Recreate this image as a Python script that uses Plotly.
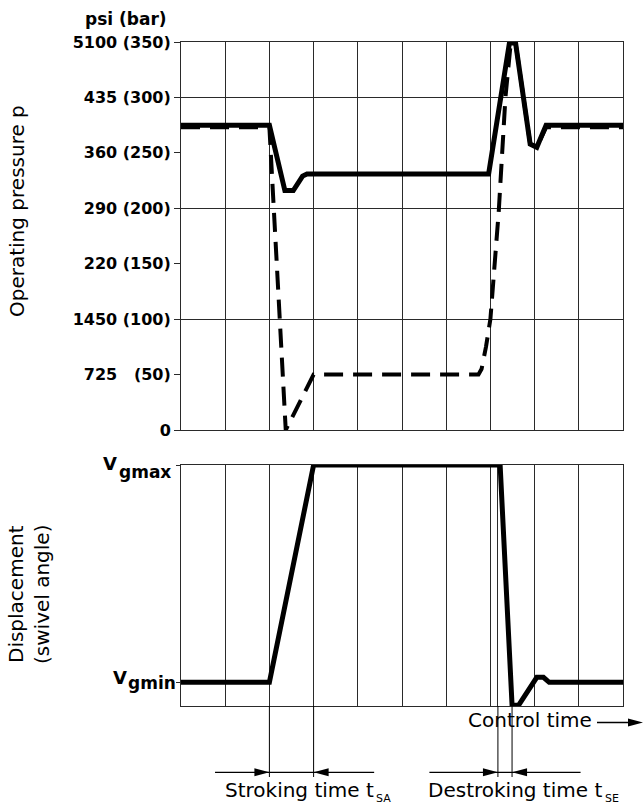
import plotly.graph_objects as go

# Time axis is expressed in grid divisions (0..10)
pressure_time_actual = [0, 2.0, 2.35, 2.54, 2.75, 2.85, 6.96, 7.43, 7.57, 7.9, 8.05, 8.26, 10]
pressure_bar_actual = [275, 275, 216, 216, 229, 231, 231, 349, 349, 258, 255, 275, 275]

pressure_time_command = [0, 2.0, 2.37, 3.0, 6.73, 6.8, 6.9, 7.0, 7.19, 7.34, 7.45, 7.5, 7.57, 7.9, 8.05, 8.26, 10]
pressure_bar_command = [273, 273, 0, 50, 50, 55, 75, 100, 198, 300, 345, 349, 349, 258, 255, 273, 273]

# Displacement normalised: 0 = Vgmin, 1 = Vgmax
disp_time = [0, 2.0, 3.0, 7.22, 7.49, 7.64, 8.05, 8.2, 8.33, 10]
disp_value = [0, 0, 1, 1, -0.105, -0.105, 0.023, 0.023, 0, 0]

pressure_ticks = [0, 50, 100, 150, 200, 250, 300, 350]
pressure_labels = ["0", "725\u2007 (50)", "1450 (100)", "220 (150)", "290 (200)",
                   "360 (250)", "435 (300)", "5100 (350)"]
pressure_grid = [100, 200, 300]

disp_ticks = [0, 1]
disp_subscripts = ["gmin", "gmax"]

stroke_marks = [2.0, 3.0]
destroke_marks = [7.17, 7.49]

W, H = 644, 806
L, R, T, B = 181, 623, 42, 706


def xp(px):
    return (px - L) / (R - L)


def yp(py):
    return (B - py) / (B - T)


INK = "#2a2a2a"
FONT = "DejaVu Sans"

fig = go.Figure()
fig.add_trace(go.Scatter(x=pressure_time_actual, y=pressure_bar_actual, mode="lines",
                         line=dict(color="black", width=5), xaxis="x", yaxis="y",
                         cliponaxis=False, showlegend=False))
fig.add_trace(go.Scatter(x=pressure_time_command, y=pressure_bar_command, mode="lines",
                         line=dict(color="black", width=4, dash="19px,10px"),
                         xaxis="x", yaxis="y", cliponaxis=False, showlegend=False))
fig.add_trace(go.Scatter(x=disp_time, y=disp_value, mode="lines",
                         line=dict(color="black", width=5), xaxis="x2", yaxis="y2",
                         cliponaxis=False, showlegend=False))

common_x = dict(range=[0, 10], showgrid=True, tick0=0, dtick=1, gridcolor=INK, gridwidth=1,
                showticklabels=False, ticks="", showline=True, linecolor=INK, linewidth=1,
                mirror=True, zeroline=False, fixedrange=True)

fig.update_layout(
    width=W, height=H,
    margin=dict(l=L, r=W - R, t=T, b=H - B),
    paper_bgcolor="white", plot_bgcolor="white",
    xaxis=dict(common_x, domain=[0, 1], anchor="y"),
    yaxis=dict(domain=[yp(430), 1], range=[0, 350], anchor="x",
               tickmode="array", tickvals=pressure_ticks, ticktext=pressure_labels,
               ticks="outside", ticklen=6, tickcolor=INK, showgrid=False,
               minor=dict(tickmode="array", tickvals=pressure_grid, showgrid=True,
                          gridcolor=INK, gridwidth=1, ticks=""),
               showline=True, linecolor=INK, linewidth=1, mirror=True, zeroline=False,
               tickfont=dict(family=FONT, size=16, color="black", weight="bold")),
    xaxis2=dict(common_x, domain=[0, 1], anchor="y2",
                minor=dict(tickmode="array", tickvals=[destroke_marks[0]], showgrid=True,
                           gridcolor=INK, gridwidth=1, ticks="")),
    yaxis2=dict(domain=[0, yp(465)], range=[-0.109, 1], anchor="x2",
                tickmode="array", tickvals=disp_ticks, showticklabels=False,
                ticks="outside", ticklen=4, tickcolor=INK, showgrid=False,
                showline=True, linecolor=INK, linewidth=1, mirror=True, zeroline=False),
)

txt = dict(family=FONT, size=20, color="black")
bold = dict(family=FONT, color="black", weight="bold")
annotations = [
    dict(text="psi (bar)", x=xp(169), y=yp(19), xanchor="right", yanchor="middle",
         font=dict(bold, size=17)),
    dict(text="Operating pressure p", x=xp(17), y=yp(211), textangle=-90,
         xanchor="center", yanchor="middle", font=txt),
    dict(text="Displacement<br>(swivel angle)", x=xp(29), y=yp(595), textangle=-90,
         xanchor="center", yanchor="middle", font=txt),
    dict(text="Control time", x=xp(466), y=yp(720), xanchor="left", yanchor="middle", font=txt),
    dict(text="Stroking time t", x=xp(223), y=yp(790), xanchor="left", yanchor="middle", font=txt),
    dict(text="SA", x=xp(374), y=yp(798), xanchor="left", yanchor="middle",
         font=dict(txt, size=11)),
    dict(text="Destroking time t", x=xp(426), y=yp(790), xanchor="left", yanchor="middle", font=txt),
    dict(text="SE", x=xp(603), y=yp(798), xanchor="left", yanchor="middle",
         font=dict(txt, size=11)),
]

# displacement level labels: V with subscript, placed beside the y2 ticks
label_pos = {"gmin": (178, 677, 683), "gmax": (173, 463.5, 472)}
for sub in disp_subscripts:
    right, y_main, y_sub = label_pos[sub]
    annotations.append(dict(text=sub, x=xp(right), y=yp(y_sub), xanchor="right",
                            yanchor="middle", font=dict(bold, size=17)))
    sub_w = {"gmin": 49, "gmax": 54}[sub]
    annotations.append(dict(text="V", x=xp(right - sub_w), y=yp(y_main), xanchor="right",
                            yanchor="middle", font=dict(bold, size=18)))

for a in annotations:
    a.update(xref="paper", yref="paper", showarrow=False)
fig.update_layout(annotations=annotations)

shapes = []
# time markers dropped below the displacement plot
for xv in stroke_marks + destroke_marks:
    shapes.append(dict(type="line", xref="x2", yref="paper", x0=xv, x1=xv,
                       y0=0, y1=yp(777), line=dict(color="black", width=1)))

# dimension lines with inward-pointing arrowheads
arrow_y = yp(772.3)
for (lo, hi), (a, b) in [((0.77, 4.37), stroke_marks), ((5.62, 9.04), destroke_marks)]:
    shapes.append(dict(type="line", xref="x2", yref="paper", x0=lo, x1=hi,
                       y0=arrow_y, y1=arrow_y, line=dict(color="black", width=1.2)))
    shapes.append(dict(type="path", xref="x2", yref="paper", xsizemode="pixel",
                       ysizemode="pixel", xanchor=a, yanchor=arrow_y,
                       path="M0,0 L-15,4 L-15,-4 Z", fillcolor="black",
                       line=dict(width=0)))
    shapes.append(dict(type="path", xref="x2", yref="paper", xsizemode="pixel",
                       ysizemode="pixel", xanchor=b, yanchor=arrow_y,
                       path="M0,0 L15,4 L15,-4 Z", fillcolor="black",
                       line=dict(width=0)))

# "Control time" direction arrow
ct_y = yp(722.5)
shapes.append(dict(type="line", xref="paper", yref="paper", x0=xp(597), x1=xp(632),
                   y0=ct_y, y1=ct_y, line=dict(color="black", width=1.5)))
shapes.append(dict(type="path", xref="paper", yref="paper", xsizemode="pixel",
                   ysizemode="pixel", xanchor=xp(643), yanchor=ct_y,
                   path="M0,0 L-15,4 L-15,-4 Z", fillcolor="black", line=dict(width=0)))
fig.update_layout(shapes=shapes)

fig.write_html("out.html")
